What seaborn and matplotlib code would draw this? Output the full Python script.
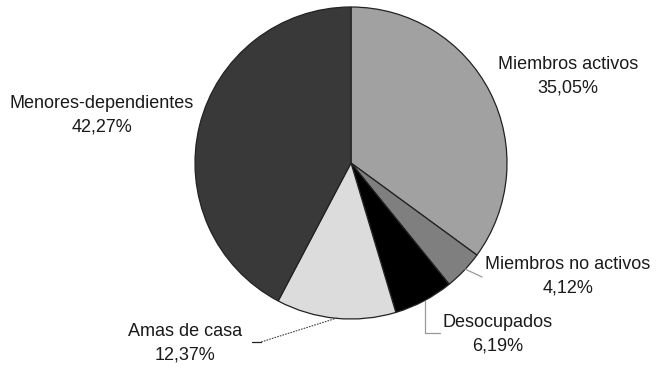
import matplotlib
matplotlib.use("Agg")
import matplotlib.pyplot as plt
import seaborn as sns

sns.set_theme(style="white")
plt.rcParams["font.family"] = ["Liberation Sans", "DejaVu Sans"]

categories = ["Miembros activos", "Miembros no activos", "Desocupados",
              "Amas de casa", "Menores-dependientes"]
shares = [35.05, 4.12, 6.19, 12.37, 42.27]
share_labels = ["35,05%", "4,12%", "6,19%", "12,37%", "42,27%"]
colors = ["#a1a1a1", "#7f7f7f", "#000000", "#dcdcdc", "#393939"]

W, H = 657, 369
fig = plt.figure(figsize=(W / 100, H / 100), dpi=100)
ax = fig.add_axes([0, 0, 1, 1])

cx, cy, r = 351, H - 163, 156
ax.pie(shares, colors=colors, startangle=90, counterclock=False,
       center=(cx, cy), radius=r, frame=True,
       wedgeprops=dict(edgecolor="#222222", linewidth=0.9))
ax.set_xlim(0, W)
ax.set_ylim(0, H)
ax.set_aspect("equal")
ax.axis("off")

txt = dict(fontsize=13, color="#1a1a1a", ha="center", va="center",
           linespacing=1.5)
label_pos = [(568, 76), (568, 276), (498, 334), (185, 343), (102, 115)]
for name, lab, (x, y) in zip(categories, share_labels, label_pos):
    ax.text(x, H - y, f"{name}\n{lab}", **txt)

# leader lines
ax.plot([465, 482], [H - 269, H - 277], color="#999999", lw=0.9)
ax.plot([425, 425, 440], [H - 301, H - 333, H - 333], color="#999999", lw=0.9)
ax.plot([337, 261], [H - 318, H - 342], color="#444444", lw=0.8, ls=(0, (1.5, 1)))
ax.plot([252, 261], [H - 342, H - 342], color="#222222", lw=0.9)

fig.savefig("out.png", dpi=100)
